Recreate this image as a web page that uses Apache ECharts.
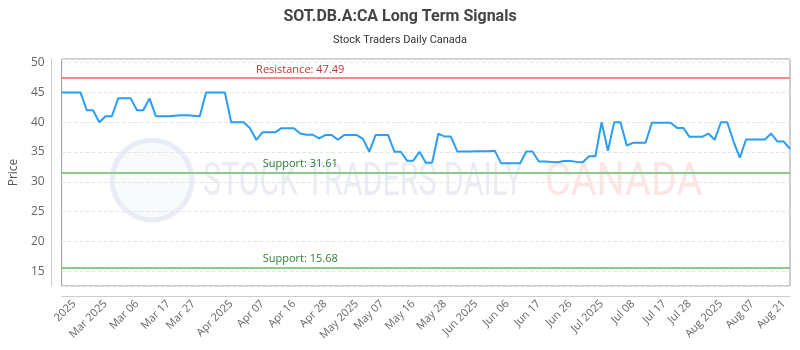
<!DOCTYPE html>
<html>
<head>
<meta charset="utf-8">
<script src="https://cdn.jsdelivr.net/npm/echarts@6/dist/echarts.min.js"></script>
<style>
  html, body { margin: 0; padding: 0; background: #fff; }
  #chart { width: 800px; height: 350px; }
</style>
</head>
<body>
<div id="chart"></div>
<script>
// closing prices, one per data point
const prices = [
  45, 45, 45, 45, 42, 42, 40, 41, 41, 44,
  44, 44, 42, 42, 44, 41, 41, 41, 41.1, 41.15,
  41.15, 41.1, 41, 45, 45, 45, 45, 40, 40, 40,
  39, 37.05, 38.3, 38.3, 38.3, 39, 39, 39, 38.1, 37.9,
  37.9, 37.3, 37.85, 37.85, 37.05, 37.85, 37.85, 37.85, 37.2, 35.05,
  37.85, 37.85, 37.85, 35.05, 35.05, 33.55, 33.55, 35.05, 33.2, 33.2,
  38.1, 37.6, 37.6, 35.1, 35.1, 35.1, 35.15, 35.15, 35.15, 35.2,
  33.1, 33.1, 33.1, 33.1, 35.1, 35.1, 33.4, 33.4, 33.35, 33.3,
  33.5, 33.5, 33.35, 33.3, 34.3, 34.3, 40, 35.2, 40, 40,
  36.1, 36.55, 36.55, 36.55, 39.9, 39.9, 39.9, 39.9, 39.05, 39.05,
  37.55, 37.55, 37.55, 38.1, 37.05, 40, 40, 36.8, 34.05, 37.1,
  37.1, 37.1, 37.1, 38.1, 36.75, 36.75, 35.55
];

// x tick labels and the data point each one sits on
const tickLabels = ['2025', 'Mar 2025', 'Mar 06', 'Mar 17', 'Mar 27', 'Apr 2025', 'Apr 07', 'Apr 16',
  'Apr 28', 'May 2025', 'May 07', 'May 16', 'May 28', 'Jun 2025', 'Jun 06', 'Jun 17', 'Jun 26',
  'Jul 2025', 'Jul 08', 'Jul 17', 'Jul 28', 'Aug 2025', 'Aug 07', 'Aug 21'];
const tickIndex = [2, 7, 12, 17, 21, 27, 32, 37, 42, 47, 51, 56, 61, 66, 71, 76, 81, 86, 91, 96, 100, 105, 110, 115];

const resistance = [47.49];
const supports = [31.61, 15.68];
const labelAt = 38; // data point under the level labels

const categories = prices.map((p, i) => String(i));

const chart = echarts.init(document.getElementById('chart'));

const option = {
  animation: false,
  title: {
    text: 'SOT.DB.A:CA Long Term Signals',
    subtext: 'Stock Traders Daily Canada',
    left: 'center',
    top: 4,
    itemGap: 10,
    textStyle: { fontFamily: 'Roboto', fontSize: 16, fontWeight: 'bold', color: '#444' },
    subtextStyle: { fontFamily: 'Roboto', fontSize: 11, color: '#333' }
  },
  grid: { left: 60, right: 10, top: 59, bottom: 64, show: true, borderColor: '#999', borderWidth: 1 },
  // faint watermark behind the plot
  graphic: [
    {
      type: 'circle', z: -1, silent: true,
      shape: { cx: 152, cy: 180, r: 40 },
      style: { fill: 'rgba(200,210,230,0.12)', stroke: 'rgba(190,200,225,0.3)', lineWidth: 5 }
    },
    {
      type: 'text', z: -1, silent: true, x: 203, y: 160, scaleX: 0.66,
      style: { text: 'STOCK TRADERS DAILY', fontFamily: 'Roboto', fontSize: 46, verticalAlign: 'top',
        fill: 'rgba(200,208,228,0.4)' }
    },
    {
      type: 'text', z: -1, silent: true, x: 545, y: 160, scaleX: 0.86,
      style: { text: 'CANADA', fontFamily: 'Roboto', fontSize: 46, verticalAlign: 'top',
        fill: 'rgba(245,170,170,0.3)' }
    }
  ],
  xAxis: {
    type: 'category',
    data: categories,
    boundaryGap: false,
    offset: 10,
    axisLine: { lineStyle: { color: '#ccc' } },
    axisTick: { show: false },
    splitLine: { show: false },
    axisLabel: {
      rotate: 45,
      margin: 6,
      fontFamily: 'Open Sans',
      fontSize: 11,
      color: '#666',
      interval: (index) => tickIndex.includes(index),
      formatter: (value, index) => tickLabels[tickIndex.indexOf(index)] || ''
    }
  },
  yAxis: {
    type: 'value',
    min: 12.54,
    max: 50.6,
    splitNumber: 8,
    offset: 10,
    name: 'Price',
    nameLocation: 'middle',
    nameGap: 30,
    nameTextStyle: { fontFamily: 'Open Sans', fontSize: 12, color: '#555' },
    axisLine: { show: true, lineStyle: { color: '#ccc' } },
    axisTick: { show: false },
    axisLabel: {
      showMinLabel: false, showMaxLabel: false,
      margin: 7, fontFamily: 'Open Sans', fontSize: 12, color: '#666'
    },
    splitLine: { lineStyle: { type: 'dashed', color: '#e6e6e6' } }
  },
  series: [
    {
      type: 'line',
      data: prices,
      showSymbol: false,
      lineStyle: { color: '#2a9df4', width: 2 },
      itemStyle: { color: '#2a9df4' },
      markLine: {
        silent: true,
        symbol: 'none',
        label: { show: false },
        data: [
          { yAxis: resistance[0], lineStyle: { color: '#f08c8c', width: 2, type: 'solid' } },
          { yAxis: supports[0], lineStyle: { color: '#8cc98c', width: 2, type: 'solid' } },
          { yAxis: supports[1], lineStyle: { color: '#8cc98c', width: 2, type: 'solid' } }
        ]
      },
      markPoint: {
        silent: true,
        symbol: 'circle',
        symbolSize: 0,
        label: { show: true, position: 'inside', offset: [0, -8], fontFamily: 'Open Sans', fontSize: 11 },
        data: [
          { coord: [labelAt, resistance[0]], value: 'Resistance: ' + resistance[0],
            label: { color: '#b03a3a' } },
          { coord: [labelAt, supports[0]], value: 'Support: ' + supports[0],
            label: { color: '#2e7d32' } },
          { coord: [labelAt, supports[1]], value: 'Support: ' + supports[1],
            label: { color: '#2e7d32' } }
        ]
      }
    }
  ]
};

chart.setOption(option);
</script>
</body>
</html>
